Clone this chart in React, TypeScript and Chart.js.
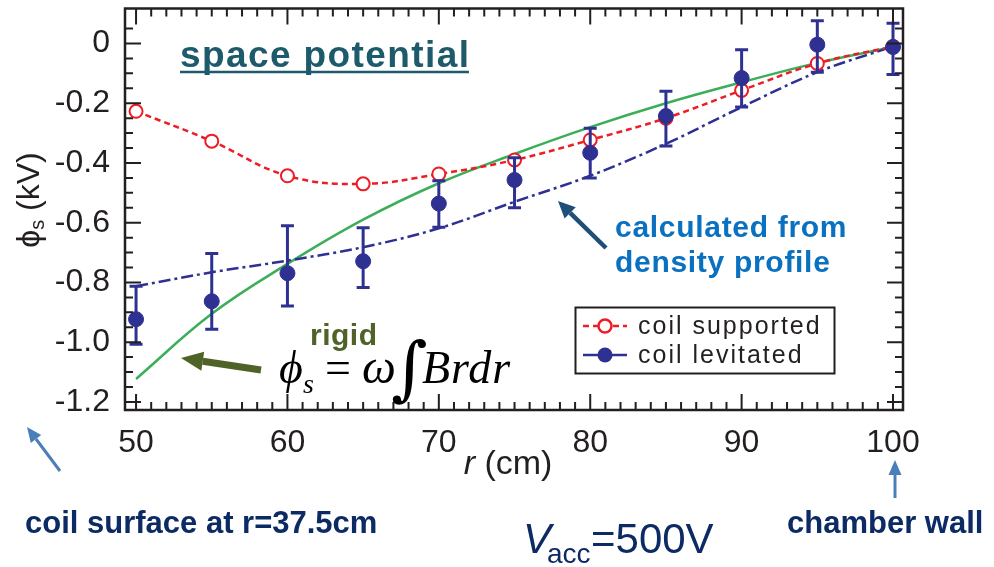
import { useEffect, useRef } from 'react';
import { Chart, registerables } from 'chart.js';

Chart.register(...registerables);

// Radial positions (cm) of the probe measurements
const radius = [50, 55, 60, 65, 70, 75, 80, 85, 90, 95, 100];

// Space potential (kV) with the coil mechanically supported
const coilSupported = [-0.227, -0.327, -0.443, -0.47, -0.437, -0.39, -0.323, -0.25, -0.157, -0.067, -0.01];

// Space potential (kV) with the coil levitated, and the ends of its error bars
const coilLevitated = [-0.923, -0.863, -0.769, -0.729, -0.536, -0.457, -0.366, -0.243, -0.116, -0.004, -0.012];
const levitatedUpper = [-0.813, -0.703, -0.61, -0.617, -0.46, -0.383, -0.284, -0.16, -0.021, 0.076, 0.068];
const levitatedLower = [-1.007, -0.957, -0.879, -0.817, -0.615, -0.55, -0.45, -0.343, -0.213, -0.096, -0.104];

// Potential calculated from the density profile (dash-dot)
const densityProfile = [-0.813, -0.766, -0.727, -0.682, -0.619, -0.53, -0.443, -0.336, -0.213, -0.096, -0.01];

// Rigid-rotation potential (solid green)
const rigidRotation = [-1.123, -0.905, -0.738, -0.59, -0.468, -0.37, -0.28, -0.2, -0.13, -0.065, -0.012];

// Axis ticks
const xTickValues = [50, 60, 70, 80, 90, 100];
const yTickValues = [-1.2, -1.0, -0.8, -0.6, -0.4, -0.2, 0];
const yTickLabels = ['-1.2', '-1.0', '-0.8', '-0.6', '-0.4', '-0.2', '0'];
const seriesNames = ['coil supported', 'coil levitated'];

const INK = '#231f20';
const RED = '#ee1c25';
const BLUE = '#2e3192';
const GREEN = '#3cae5a';
const NAVY = '#0c2a63';
const SANS = '"Liberation Sans", Arial, sans-serif';
const SERIF = '"Liberation Serif", "Times New Roman", serif';

const toPoints = (ys: number[]) => radius.map((r, i) => ({ x: r, y: ys[i] }));

function drawArrow(
  ctx: CanvasRenderingContext2D,
  x1: number, y1: number, x2: number, y2: number,
  color: string, width: number, headLen: number, headW: number,
) {
  const ang = Math.atan2(y2 - y1, x2 - x1);
  const bx = x2 - headLen * Math.cos(ang);
  const by = y2 - headLen * Math.sin(ang);
  ctx.save();
  ctx.strokeStyle = color;
  ctx.lineWidth = width;
  ctx.lineCap = 'butt';
  ctx.beginPath();
  ctx.moveTo(x1, y1);
  ctx.lineTo(bx, by);
  ctx.stroke();
  ctx.fillStyle = color;
  ctx.beginPath();
  ctx.moveTo(x2, y2);
  ctx.lineTo(bx + (headW / 2) * Math.sin(ang), by - (headW / 2) * Math.cos(ang));
  ctx.lineTo(bx - (headW / 2) * Math.sin(ang), by + (headW / 2) * Math.cos(ang));
  ctx.closePath();
  ctx.fill();
  ctx.restore();
}

// Vertical error bars on the levitated-coil points
const errorBars = {
  id: 'errorBars',
  afterDatasetDraw(chart: any, args: any) {
    if (args.index !== 1) return;
    const { ctx } = chart;
    const x = chart.scales.x;
    const y = chart.scales.y;
    ctx.save();
    ctx.strokeStyle = BLUE;
    ctx.lineWidth = 3;
    ctx.beginPath();
    radius.forEach((r, i) => {
      const px = x.getPixelForValue(r);
      const top = y.getPixelForValue(levitatedUpper[i]);
      const bot = y.getPixelForValue(levitatedLower[i]);
      ctx.moveTo(px, top);
      ctx.lineTo(px, bot);
      ctx.moveTo(px - 6.5, top);
      ctx.lineTo(px + 6.5, top);
      ctx.moveTo(px - 6.5, bot);
      ctx.lineTo(px + 6.5, bot);
    });
    ctx.stroke();
    ctx.restore();
  },
};

// Box frame with inward major/minor ticks on all four sides
const frameTicks = {
  id: 'frameTicks',
  afterDatasetsDraw(chart: any) {
    const { ctx, chartArea: a } = chart;
    const x = chart.scales.x;
    const y = chart.scales.y;
    ctx.save();
    ctx.strokeStyle = INK;
    ctx.lineWidth = 2;
    ctx.beginPath();
    for (let v = 50; v <= 100; v++) {
      const px = x.getPixelForValue(v);
      const len = v % 10 === 0 ? 16 : 8;
      ctx.moveTo(px, a.bottom);
      ctx.lineTo(px, a.bottom - len);
      ctx.moveTo(px, a.top);
      ctx.lineTo(px, a.top + len);
    }
    for (let k = -24; k <= 1; k++) {
      const py = y.getPixelForValue(k * 0.05);
      const len = k % 4 === 0 ? 16 : 8;
      ctx.moveTo(a.left, py);
      ctx.lineTo(a.left + len, py);
      ctx.moveTo(a.right, py);
      ctx.lineTo(a.right - len, py);
    }
    ctx.stroke();
    ctx.lineWidth = 2.5;
    ctx.strokeRect(a.left, a.top, a.right - a.left, a.bottom - a.top);
    ctx.restore();
  },
};

// Axis titles, legend, labels and arrows
const annotations = {
  id: 'annotations',
  afterDraw(chart: any) {
    const { ctx, chartArea: a } = chart;
    ctx.save();

    // y-axis title
    ctx.save();
    ctx.translate(30, 200);
    ctx.rotate(-Math.PI / 2);
    ctx.fillStyle = INK;
    ctx.textBaseline = 'middle';
    ctx.font = `32px ${SANS}`;
    const wPhi = ctx.measureText('ϕ').width;
    const wRest = ctx.measureText(' (kV)').width;
    ctx.font = `20px ${SANS}`;
    const wSub = ctx.measureText('s').width;
    let tx = -(wPhi + wSub + wRest) / 2;
    ctx.font = `32px ${SANS}`;
    ctx.fillText('ϕ', tx, 0);
    tx += wPhi;
    ctx.font = `20px ${SANS}`;
    ctx.fillText('s', tx, 8);
    tx += wSub;
    ctx.font = `32px ${SANS}`;
    ctx.fillText(' (kV)', tx, 0);
    ctx.restore();

    // x-axis title
    ctx.fillStyle = INK;
    ctx.textBaseline = 'alphabetic';
    ctx.font = `italic 34px ${SANS}`;
    const wr = ctx.measureText('r').width;
    ctx.font = `34px ${SANS}`;
    const wcm = ctx.measureText(' (cm)').width;
    const cx = (a.left + a.right) / 2 - 6;
    const xx = cx - (wr + wcm) / 2;
    ctx.font = `italic 34px ${SANS}`;
    ctx.fillText('r', xx, 474);
    ctx.font = `34px ${SANS}`;
    ctx.fillText(' (cm)', xx + wr, 474);

    // title
    ctx.fillStyle = '#1d5a6b';
    ctx.font = `bold 37px ${SANS}`;
    (ctx as any).letterSpacing = '1.4px';
    const titleW = ctx.measureText('space potential').width;
    ctx.fillText('space potential', 180, 67);
    ctx.strokeStyle = '#1d5a6b';
    ctx.lineWidth = 2.5;
    ctx.beginPath();
    ctx.moveTo(180, 72);
    ctx.lineTo(180 + titleW - 1.4, 72);
    ctx.stroke();

    // calculated-from-density label
    ctx.fillStyle = '#0a70c0';
    ctx.font = `bold 30px ${SANS}`;
    (ctx as any).letterSpacing = '0.7px';
    ctx.fillText('calculated from', 615, 237);
    ctx.fillText('density profile', 615, 272);
    (ctx as any).letterSpacing = '0px';
    drawArrow(ctx, 606, 248, 558, 201, '#1f4e79', 4.5, 17, 16);

    // rigid rotation label and formula
    ctx.fillStyle = '#4f6228';
    ctx.font = `bold 30px ${SANS}`;
    (ctx as any).letterSpacing = '0.5px';
    ctx.fillText('rigid', 310, 345);
    (ctx as any).letterSpacing = '0px';
    drawArrow(ctx, 261, 370, 181, 358, '#4f6228', 7, 22, 19);

    ctx.fillStyle = '#000';
    ctx.font = `italic 46px ${SERIF}`;
    ctx.fillText('ϕ', 279, 383);
    ctx.font = `italic 28px ${SERIF}`;
    ctx.fillText('s', 303, 393);
    ctx.font = `46px ${SERIF}`;
    ctx.fillText('=', 325, 383);
    ctx.font = `italic 48px ${SERIF}`;
    ctx.fillText('ω', 362, 383);
    ctx.font = `70px "DejaVu Serif", ${SERIF}`;
    ctx.fillText('∫', 391, 392);
    ctx.font = `italic 46px ${SERIF}`;
    (ctx as any).letterSpacing = '1px';
    ctx.fillText('Brdr', 422, 383);
    (ctx as any).letterSpacing = '0px';

    // legend
    ctx.strokeStyle = INK;
    ctx.lineWidth = 2;
    ctx.strokeRect(575.5, 307.5, 259, 66);
    ctx.font = `25px ${SANS}`;
    (ctx as any).letterSpacing = '2px';
    ctx.textBaseline = 'middle';
    ctx.fillStyle = INK;
    ctx.fillText(seriesNames[0], 638, 327);
    ctx.fillText(seriesNames[1], 638, 356);
    (ctx as any).letterSpacing = '0px';
    ctx.strokeStyle = RED;
    ctx.lineWidth = 2.5;
    ctx.setLineDash([6, 4]);
    ctx.beginPath();
    ctx.moveTo(583, 326);
    ctx.lineTo(627, 326);
    ctx.stroke();
    ctx.setLineDash([]);
    ctx.fillStyle = '#fff';
    ctx.beginPath();
    ctx.arc(605, 326, 6.5, 0, Math.PI * 2);
    ctx.fill();
    ctx.stroke();
    ctx.strokeStyle = BLUE;
    ctx.lineWidth = 2.5;
    ctx.beginPath();
    ctx.moveTo(583, 355);
    ctx.lineTo(627, 355);
    ctx.stroke();
    ctx.fillStyle = BLUE;
    ctx.beginPath();
    ctx.arc(605, 355, 7.5, 0, Math.PI * 2);
    ctx.fill();

    // notes below the plot
    drawArrow(ctx, 60, 471, 27, 427, '#4a7ebb', 3, 15, 13);
    drawArrow(ctx, 895, 498, 895, 460, '#4a7ebb', 3, 15, 13);
    ctx.textBaseline = 'alphabetic';
    ctx.fillStyle = NAVY;
    ctx.font = `bold 31px ${SANS}`;
    ctx.fillText('coil surface at r=37.5cm', 25, 533);
    ctx.fillText('chamber wall', 787, 533);

    ctx.font = `italic 42px ${SANS}`;
    ctx.fillText('V', 523, 553);
    ctx.font = `28px ${SANS}`;
    ctx.fillText('acc', 547, 563);
    ctx.font = `42px ${SANS}`;
    ctx.fillText('=500V', 591, 553);

    ctx.restore();
  },
};

export default function App() {
  const canvasRef = useRef<HTMLCanvasElement | null>(null);

  useEffect(() => {
    if (!canvasRef.current) return;
    const chart = new Chart(canvasRef.current, {
      type: 'scatter',
      data: {
        datasets: [
          {
            label: seriesNames[0],
            data: toPoints(coilSupported),
            showLine: true,
            borderColor: RED,
            borderWidth: 2.5,
            borderDash: [6, 4],
            tension: 0.4,
            pointRadius: 6.5,
            pointBorderWidth: 2,
            pointBorderColor: RED,
            pointBackgroundColor: '#ffffff',
            order: 3,
          },
          {
            label: seriesNames[1],
            data: toPoints(coilLevitated),
            showLine: false,
            pointRadius: 7.5,
            pointBorderWidth: 1,
            pointBorderColor: BLUE,
            pointBackgroundColor: BLUE,
            order: 1,
          },
          {
            label: 'calculated from density profile',
            data: toPoints(densityProfile),
            showLine: true,
            borderColor: BLUE,
            borderWidth: 2.5,
            borderDash: [12, 4, 3, 4],
            tension: 0.35,
            pointRadius: 0,
            order: 4,
          },
          {
            label: 'rigid',
            data: toPoints(rigidRotation),
            showLine: true,
            borderColor: GREEN,
            borderWidth: 2.5,
            tension: 0.4,
            pointRadius: 0,
            order: 5,
          },
        ],
      },
      options: {
        responsive: false,
        animation: false,
        events: [],
        layout: { padding: { left: 0, top: 7, right: 91, bottom: 0 } },
        plugins: { legend: { display: false }, tooltip: { enabled: false } },
        scales: {
          x: {
            type: 'linear',
            min: 49.27,
            max: 100.66,
            grid: { display: false },
            border: { display: false },
            ticks: {
              font: { family: SANS, size: 32 },
              color: INK,
              padding: 6,
              maxRotation: 0,
              autoSkip: false,
            },
            afterBuildTicks: (s: any) => {
              s.ticks = xTickValues.map((v) => ({ value: v }));
            },
            afterFit: (s: any) => {
              s.height = 157;
              s.paddingLeft = 0;
              s.paddingRight = 0;
            },
          },
          y: {
            type: 'linear',
            min: -1.227,
            max: 0.117,
            grid: { display: false },
            border: { display: false },
            ticks: {
              font: { family: SANS, size: 32 },
              color: INK,
              padding: 7,
              autoSkip: false,
              callback: (value: any) => {
                const i = yTickValues.findIndex((v) => Math.abs(v - value) < 1e-6);
                return i >= 0 ? yTickLabels[i] : '';
              },
            },
            afterBuildTicks: (s: any) => {
              s.ticks = yTickValues.map((v) => ({ value: v }));
            },
            afterFit: (s: any) => {
              s.width = 125;
              s.paddingTop = 0;
              s.paddingBottom = 0;
            },
          },
        },
      },
      plugins: [errorBars, frameTicks, annotations],
    } as any);
    return () => chart.destroy();
  }, []);

  return (
    <div style={{ position: 'fixed', left: 0, top: 0, width: 994, height: 567, background: '#fff' }}>
      <canvas ref={canvasRef} width={994} height={567} style={{ display: 'block' }} />
    </div>
  );
}
